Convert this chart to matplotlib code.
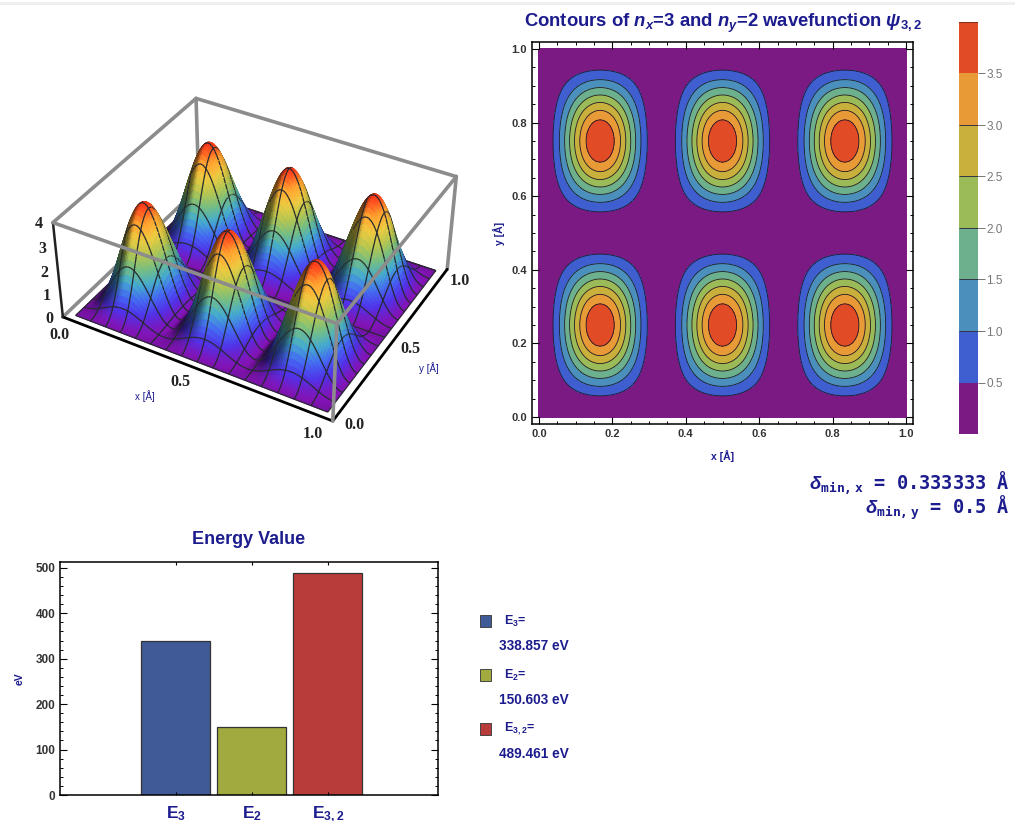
#!/usr/bin/env python3

import numpy as np
import matplotlib
matplotlib.use('Agg')
import matplotlib.pyplot as plt
from matplotlib.colors import ListedColormap, LinearSegmentedColormap, BoundaryNorm
from matplotlib.patches import Rectangle
from matplotlib.ticker import MultipleLocator
from mpl_toolkits.mplot3d.art3d import Poly3DCollection

plt.rcParams['font.family'] = ['Liberation Sans', 'DejaVu Sans']
plt.rcParams['mathtext.fontset'] = 'custom'
plt.rcParams['mathtext.rm'] = 'Liberation Sans:bold'
plt.rcParams['mathtext.it'] = 'Liberation Sans:italic:bold'
plt.rcParams['mathtext.bf'] = 'Liberation Sans:bold'
plt.rcParams['mathtext.tt'] = 'DejaVu Sans Mono:bold'

# values
half_lobe = [0.0, 0.004, 0.017, 0.038, 0.067, 0.103, 0.146, 0.195, 0.25, 0.309, 0.371, 0.435, 0.5,
             0.565, 0.629, 0.691, 0.75, 0.805, 0.854, 0.897, 0.933, 0.962, 0.983, 0.996, 1.0]
peak_height = 4.0
lobes_x = 3
lobes_y = 2
levels = [0, 0.5, 1.0, 1.5, 2.0, 2.5, 3.0, 3.5, 4.0]
level_colors = ['#7a1a82', '#3f5fd0', '#4b8fbd', '#6cb08e', '#9bbb58', '#c9b03c', '#e79a36', '#e14b25']
surface_colors = ['#7a12a8', '#4a2fd8', '#3f62e0', '#3f9fc0', '#6cb07a', '#a9b84a', '#dcbc3c', '#f5962c', '#f03018']
energy_names = [r'$\mathrm{E}_3$', r'$\mathrm{E}_2$', r'$\mathrm{E}_{3,2}$']
energy_values = [338.857, 150.603, 489.461]
energy_colors = ['#3f5a96', '#a0aa3e', '#b83c3a']
legend_names = [r'$\mathrm{E}_3$=', r'$\mathrm{E}_2$=', r'$\mathrm{E}_{3,2}$=']
legend_values = ['338.857 eV', '150.603 eV', '489.461 eV']

navy = '#1c1c8e'
W, H = 1015.0, 821.0


def px_rect(left, top, right, bottom):
    return [left / W, 1 - bottom / H, (right - left) / W, (bottom - top) / H]


lobe = half_lobe + half_lobe[-2::-1]
prof_x = np.array(lobe + sum([lobe[1:] for i in range(lobes_x - 1)], []))
prof_y = np.array(lobe + sum([lobe[1:] for i in range(lobes_y - 1)], []))
x = np.linspace(0, 1, len(prof_x))
y = np.linspace(0, 1, len(prof_y))
Z = peak_height * np.outer(prof_y, prof_x)

fig = plt.figure(figsize=(10.15, 8.21), dpi=100)
fig.add_artist(Rectangle((0, 1 - 5 / H), 1, 3 / H, transform=fig.transFigure, color='#efefef', lw=0))

# ---- 3d surface
elev, azim = 37, -60.5
lo, hi = -0.035, 1.035
ax3 = fig.add_axes(px_rect(-8, -6, 512, 514), projection='3d', computed_zorder=False)
ax3.view_init(elev=elev, azim=azim)
ax3.set_proj_type('persp', focal_length=0.52)
ax3.set_box_aspect((1, 0.86, 0.385), zoom=0.78)
ax3.set_xlim(lo, hi)
ax3.set_ylim(lo, hi)
ax3.set_zlim(0, 4)
ax3.set_axis_off()
ax3.patch.set_alpha(0)

cmap3 = LinearSegmentedColormap.from_list('surf', surface_colors)
dzdy, dzdx = np.gradient(Z, y, x)
shade = 1 - 0.06 * np.clip(dzdx, -2, 12) + 0.02 * np.clip(dzdy, -10, 10)
shade = np.clip(shade, 0.4, 1.08)

view = np.array([np.cos(np.radians(elev)) * np.cos(np.radians(azim)),
                 np.cos(np.radians(elev)) * np.sin(np.radians(azim)),
                 np.sin(np.radians(elev)) * 9])
lift = 0.012 * view

polys = []
faces = []
for j in range(len(y) - 1):
    for i in range(len(x) - 1):
        polys.append([(x[i], y[j], Z[j, i]), (x[i + 1], y[j], Z[j, i + 1]),
                      (x[i + 1], y[j + 1], Z[j + 1, i + 1]), (x[i], y[j + 1], Z[j + 1, i])])
        zm = Z[j:j + 2, i:i + 2].mean() / peak_height
        col = np.array(cmap3(zm))
        col[:3] = np.clip(col[:3] * shade[j:j + 2, i:i + 2].mean(), 0, 1)
        faces.append(col)

mesh_color = (0.14, 0.16, 0.18, 1)
for i in range(0, len(x), 9):
    for j in range(len(y) - 1):
        a = np.array([x[i], y[j], Z[j, i]]) + lift
        b = np.array([x[i], y[j + 1], Z[j + 1, i]]) + lift
        polys.append([a, b, b, a])
        faces.append(mesh_color)
for j in range(0, len(y), 6):
    for i in range(len(x) - 1):
        a = np.array([x[i], y[j], Z[j, i]]) + lift
        b = np.array([x[i + 1], y[j], Z[j, i + 1]]) + lift
        polys.append([a, b, b, a])
        faces.append(mesh_color)

surf = Poly3DCollection(polys, facecolors=faces, edgecolors=faces, linewidths=0.9, zorder=5)
ax3.add_collection3d(surf)

grey = '#8c8c8c'
def edge3(p, q, color=grey, lw=2.6, zorder=1):
    ax3.plot([p[0], q[0]], [p[1], q[1]], [p[2], q[2]], color=color, lw=lw, zorder=zorder, solid_capstyle='round')

# back edges go under the surface, front edges over it
edge3((lo, hi, 4), (hi, hi, 4))
edge3((lo, lo, 4), (lo, hi, 4))
edge3((lo, hi, 0), (lo, hi, 4))
edge3((hi, hi, 0), (hi, hi, 4))
edge3((lo, lo, 0), (lo, hi, 0))
edge3((0, 1, 0), (1, 1, 0), color='black', lw=1.6)
edge3((lo, lo, 4), (hi, lo, 4), zorder=10)
edge3((hi, lo, 4), (hi, hi, 4), zorder=10)
edge3((hi, lo, 0), (hi, lo, 4), zorder=10)
edge3((lo, lo, 0), (hi, lo, 0), color='black', lw=2, zorder=9)
edge3((hi, lo, 0), (hi, hi, 0), color='black', lw=2, zorder=9)
edge3((lo, lo, 0), (lo, lo, 4), color='#222222', lw=1.8, zorder=9)

serif = dict(family='Liberation Serif', fontweight='bold', fontsize=11.5, color='#222222', ha='center', va='center')
for v in range(5):
    ax3.text(-0.07, -0.07, v, str(v), zorder=11, **serif)
for v in [0.0, 0.5, 1.0]:
    ax3.text(v, -0.12, -0.12, '%.1f' % v, zorder=11, **serif)
    ax3.text(1.10, v, -0.1, '%.1f' % v, zorder=11, **serif)
ax3.text(0.44, -0.27, 0, 'x [Å]', color=navy, fontsize=7, ha='center', va='center', zorder=11)
ax3.text(1.2, 0.42, 0, 'y [Å]', color=navy, fontsize=7, ha='center', va='center', zorder=11)

# ---- contour plot
ax = fig.add_axes(px_rect(532, 42, 913, 424))
cmap = ListedColormap(level_colors)
norm = BoundaryNorm(levels, cmap.N)
cs = ax.contourf(x, y, Z, levels=levels, cmap=cmap, norm=norm)
ax.contour(x, y, Z, levels=levels[1:-1], colors='#1b1b2a', linewidths=0.6)
ax.set_xlim(-0.019, 1.019)
ax.set_ylim(-0.019, 1.019)
ax.xaxis.set_major_locator(MultipleLocator(0.2))
ax.yaxis.set_major_locator(MultipleLocator(0.2))
ax.xaxis.set_minor_locator(MultipleLocator(0.05))
ax.yaxis.set_minor_locator(MultipleLocator(0.05))
ax.tick_params(which='major', direction='in', length=5, width=0.8, top=True, right=True, labelsize=8, labelcolor='#333333')
ax.tick_params(which='minor', direction='in', length=2.5, width=0.7, top=True, right=True)
for lab in ax.get_xticklabels() + ax.get_yticklabels():
    lab.set_fontweight('bold')
for s in ax.spines.values():
    s.set_linewidth(1.1)
ax.set_xlabel('x [Å]', color=navy, fontsize=7.5, fontweight='bold', labelpad=8)
ax.set_ylabel('y [Å]', color=navy, fontsize=7.5, fontweight='bold', labelpad=5)
ax.set_title(r'Contours of $n_x$=3 and $n_y$=2 wavefunction $\psi_{3,2}$', color=navy, fontsize=13.3, fontweight='bold', pad=11)

cax = fig.add_axes(px_rect(959, 22, 978, 434))
cb = fig.colorbar(cs, cax=cax, ticks=[0.5, 1.0, 1.5, 2.0, 2.5, 3.0, 3.5], drawedges=True)
cb.outline.set_visible(False)
cb.dividers.set_segments(cb.dividers.get_segments()[1:-1])
cb.dividers.set_color('#333344')
cb.dividers.set_linewidth(0.7)
cb.set_ticklabels(['0.5', '1.0', '1.5', '2.0', '2.5', '3.0', '3.5'])
cb.ax.minorticks_off()
cb.ax.tick_params(length=5, width=0.7, color='#777777', labelcolor='#777777', labelsize=8.5, pad=1)
cax.axhline(4, color='#8a3020', lw=1.5)

# delta readouts
mono = dict(family=['DejaVu Sans Mono'], fontweight='bold', color=navy, fontsize=13.4, ha='right', va='center')
fig.text(1010 / W, 1 - 483 / H, r'$\delta_{\mathtt{min,x}}$ = 0.333333 Å', **mono)
fig.text(1010 / W, 1 - 508 / H, r'$\delta_{\mathtt{min,y}}$ = 0.5 Å', **mono)

# ---- bar chart
axb = fig.add_axes(px_rect(60, 562, 438, 795))
pos = [1, 2, 3]
axb.bar(pos, energy_values, width=0.91, color=energy_colors, edgecolor='#333333', linewidth=0.9)
axb.set_xlim(-0.52, 4.45)
axb.set_ylim(0, 513)
axb.set_xticks(pos)
axb.set_xticklabels(energy_names, color=navy, fontsize=12.5)
axb.yaxis.set_major_locator(MultipleLocator(100))
axb.yaxis.set_minor_locator(MultipleLocator(20))
axb.tick_params(axis='x', direction='in', length=2.5, width=0.8, top=True, pad=7)
axb.tick_params(axis='y', which='major', direction='in', length=5, width=0.8, right=True, labelsize=8.5, labelcolor='#333333')
axb.tick_params(axis='y', which='minor', direction='in', length=2.5, width=0.7, right=True)
for lab in axb.get_yticklabels():
    lab.set_fontweight('bold')
for s in axb.spines.values():
    s.set_linewidth(1.1)
axb.set_ylabel('eV', color=navy, fontsize=7.5, fontweight='bold', labelpad=8)
axb.set_title('Energy Value', color=navy, fontsize=13, fontweight='bold', pad=13)

# legend on the right of the bars
for i in range(3):
    yy = 621 + 54 * i
    fig.add_artist(Rectangle((480 / W, 1 - (yy + 6) / H), 11 / W, 12 / H, transform=fig.transFigure,
                             facecolor=energy_colors[i], edgecolor='#444444', lw=0.7))
    fig.text(504 / W, 1 - yy / H, legend_names[i], color=navy, fontsize=9, fontweight='bold', va='center', ha='left')
    fig.text(499 / W, 1 - (yy + 25) / H, legend_values[i], color=navy, fontsize=9.8, fontweight='bold', va='center', ha='left')

fig.savefig('out.png', dpi=100)
